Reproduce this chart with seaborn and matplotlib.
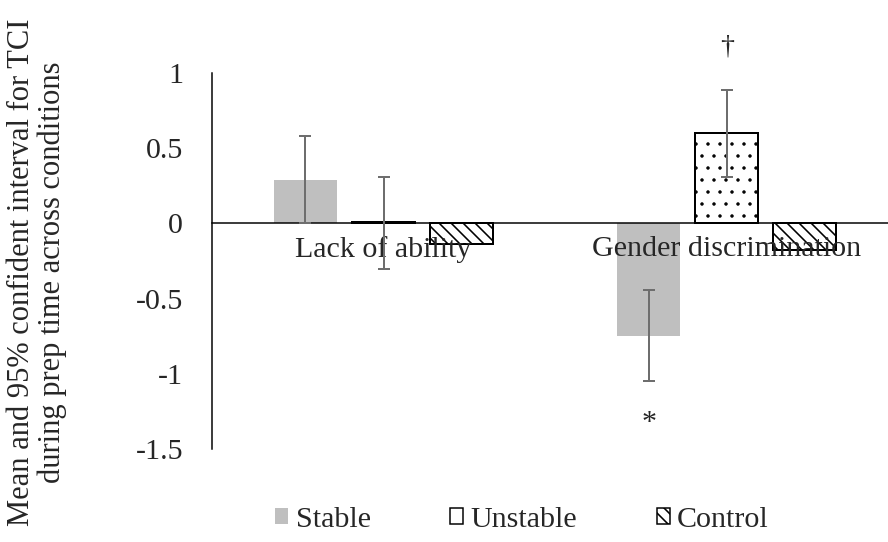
import pandas as pd
import matplotlib
matplotlib.use("Agg")
import matplotlib.pyplot as plt
from matplotlib.patches import Patch
import seaborn as sns

# ---------------------------------
# Data
# ---------------------------------
categories = ["Lack of ability", "Gender discrimination"]
conditions = ["Stable", "Unstable", "Control"]

stable_mean = [0.29, -0.75]
unstable_mean = [0.01, 0.60]
control_mean = [-0.14, -0.18]

# 95% CI (lower, upper); the control bars show no interval
stable_ci_low = [0.00, -1.05]
stable_ci_high = [0.58, -0.44]
unstable_ci_low = [-0.30, 0.31]
unstable_ci_high = [0.31, 0.89]

y_ticks = [1, 0.5, 0, -0.5, -1, -1.5]
y_tick_labels = ["1", "0.5", "0", "-0.5", "-1", "-1.5"]

df = pd.DataFrame({
    "category": categories * 3,
    "condition": [c for c in conditions for _ in categories],
    "value": stable_mean + unstable_mean + control_mean,
})

# ---------------------------------
# Style
# ---------------------------------
sns.set_style("white")
plt.rcParams["font.family"] = ["Liberation Serif", "DejaVu Serif"]
plt.rcParams["hatch.linewidth"] = 1.6
FS = 30

fig = plt.figure(figsize=(888 / 72, 542 / 72), dpi=72)
ax = fig.add_axes([212 / 888, 1 - 449 / 542, 676 / 888, (449 - 73) / 542])

palette = {"Stable": "#bfbfbf", "Unstable": "white", "Control": "white"}
sns.barplot(data=df, x="category", y="value", hue="condition",
            order=categories, hue_order=conditions, palette=palette,
            saturation=1, width=0.683, gap=0.19, errorbar=None,
            legend=False, ax=ax)

hatches = {"Stable": "", "Unstable": ".", "Control": "\\\\"}
for cond, cont in zip(conditions, ax.containers):
    for bar in cont:
        if cond == "Stable":
            bar.set_edgecolor("none")
            bar.set_linewidth(0)
        else:
            bar.set_edgecolor("black")
            bar.set_linewidth(2)
            bar.set_hatch(hatches[cond])
            if cond == "Unstable" and hasattr(bar, "set_hatch_linewidth"):
                bar.set_hatch_linewidth(1.0)

# error bars for stable and unstable
err_sets = [(stable_mean, stable_ci_low, stable_ci_high),
            (unstable_mean, unstable_ci_low, unstable_ci_high)]
for cont, (m, lo, hi) in zip(ax.containers[:2], err_sets):
    xs = [b.get_x() + b.get_width() / 2 for b in cont]
    ax.errorbar(xs, m, yerr=[[a - b for a, b in zip(m, lo)],
                             [b - a for a, b in zip(m, hi)]],
                fmt="none", ecolor="#6e6e6e", elinewidth=2,
                capsize=6, capthick=2, zorder=5)

# significance marks
gd_stable = ax.containers[0][1]
gd_unstable = ax.containers[1][1]
ax.text(gd_unstable.get_x() + gd_unstable.get_width() / 2, 1.17, "†",
        ha="center", va="center", fontsize=FS - 2, clip_on=False)
ax.text(gd_stable.get_x() + gd_stable.get_width() / 2, -1.33, "*",
        ha="center", va="center", fontsize=FS)

# axes
ax.set_axisbelow(False)
ax.set_xlim(-0.5, 1.47)
ax.set_ylim(-1.5, 1)
ax.set_yticks(y_ticks)
ax.set_yticklabels(y_tick_labels, fontsize=FS)
ax.set_xlabel("")
ax.set_ylabel("")
ax.tick_params(axis="y", length=0, pad=29)
ax.tick_params(axis="x", length=0, pad=13, labelsize=FS)
for s in ["top", "right"]:
    ax.spines[s].set_visible(False)
ax.spines["left"].set_color("black")
ax.spines["left"].set_linewidth(1.5)
ax.spines["bottom"].set_position(("data", 0))
ax.spines["bottom"].set_color("black")
ax.spines["bottom"].set_linewidth(1.5)

fig.text(37 / 888, 1 - 272 / 542,
         "Mean and 95% confident interval for TCI\nduring prep time across conditions",
         rotation=90, ha="center", va="center", multialignment="center",
         fontsize=30.5, linespacing=1.08)

handles = [
    Patch(facecolor="#bfbfbf", edgecolor="none", label="Stable"),
    Patch(facecolor="white", edgecolor="black", linewidth=1.5, label="Unstable"),
    Patch(facecolor="white", edgecolor="black", linewidth=1.5, hatch="\\\\", label="Control"),
]
fig.legend(handles=handles, loc="center", bbox_to_anchor=(522 / 888, 1 - 520 / 542),
           ncol=3, frameon=False, fontsize=FS, handlelength=0.43, handleheight=0.43,
           handletextpad=0.25, columnspacing=2.65, borderaxespad=0)

fig.savefig("out.png", dpi=72)
